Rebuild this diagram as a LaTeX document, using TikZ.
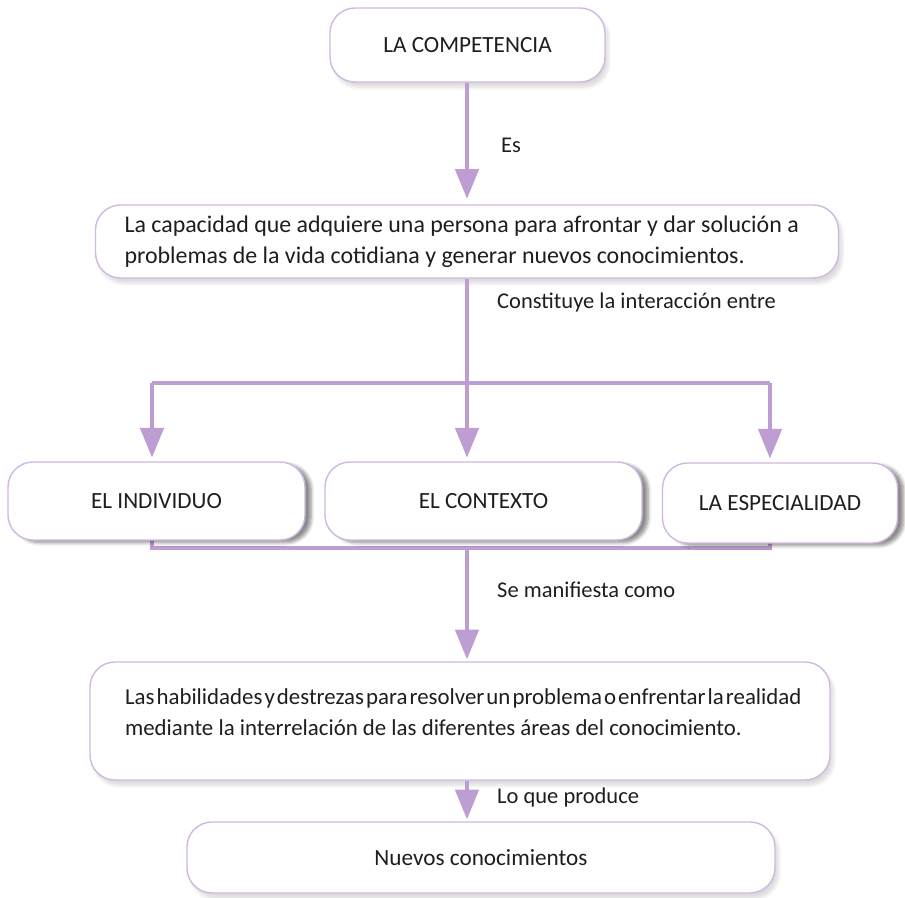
\documentclass[tikz,border=0pt]{standalone}
\usepackage{fontspec}
\setmainfont{Carlito}
\usetikzlibrary{arrows.meta,shadows.blur}

\definecolor{lila}{RGB}{190,158,210}
\definecolor{lilaedge}{RGB}{208,184,224}
\definecolor{ink}{RGB}{30,30,30}

\begin{document}
\begin{tikzpicture}[>={Triangle[width=0.46cm,length=0.6cm]},
  box/.style={draw=lilaedge, line width=0.8pt, fill=white, rounded corners=0.5cm,
    inner sep=0pt, text=ink, font=\fontsize{13.2}{17.5}\selectfont},
  soft/.style={blur shadow={shadow xshift=2pt, shadow yshift=-3pt,
    shadow opacity=14, shadow blur steps=8}},
  hard/.style={blur shadow={shadow xshift=3.5pt, shadow yshift=-1.5pt,
    shadow opacity=45, shadow blur steps=6}},
  flow/.style={lila, line width=2.8pt},
  lbl/.style={anchor=west, text=ink, font=\fontsize{12.8}{16}\selectfont}]

\useasboundingbox (0,0) rectangle (18.1,-17.96);
\coordinate (spine) at (9.34,0);

% Concept boxes
\node[box,soft,minimum width=5.5cm,minimum height=1.48cm] (comp) at (9.35,-0.9) {LA COMPETENCIA};
\node[box,soft,minimum width=14.86cm,minimum height=1.46cm,align=flush left,text width=13.7cm,
  font=\fontsize{13.6}{17.5}\selectfont] (cap) at (9.34,-4.83)
  {La capacidad que adquiere una persona para afrontar y dar solución a\\
   problemas de la vida cotidiana y generar nuevos conocimientos.};

% Bracket under the three boxes (drawn first, boxes cover it)
\draw[flow] (3.04,-10.6) |- (15.4,-10.96) -- (15.4,-10.6);

\node[box,hard,minimum width=5.94cm,minimum height=1.56cm] (indiv) at (3.13,-10.02) {EL INDIVIDUO};
\node[box,hard,minimum width=6.34cm,minimum height=1.56cm] (contexto) at (9.67,-10.02) {EL CONTEXTO};
\node[box,hard,minimum width=4.7cm,minimum height=1.6cm] (espec) at (15.6,-10.06) {LA ESPECIALIDAD};

\node[box,soft,minimum width=14.8cm,minimum height=2.36cm] (habil) at (9.2,-14.42) {};
\node[align=flush left,text width=13.6cm,inner sep=0pt,text=ink,font=\fontsize{13}{17.5}\selectfont] (habiltxt)
  at (9.3,-14.25)
  {\mbox{\spaceskip=1.2pt Las habilidades y destrezas para resolver un problema o enfrentar la realidad}\\
   mediante la interrelación de las diferentes áreas del conocimiento.};

\node[box,soft,minimum width=11.76cm,minimum height=1.42cm] (nuevos) at (9.62,-17.15) {Nuevos conocimientos};

% Connectors
\coordinate (fork) at (spine |- 0,-7.66);
\draw[flow,->,shorten >=3pt] (comp.south -| spine) -- (spine |- cap.north);
\draw[flow] (cap.south -| spine) -- (fork);
\draw[flow] (3.04,-7.66) -- (15.4,-7.66);
\foreach \xx/\dest in {3.04/indiv,9.34/contexto,15.4/espec}
  \draw[flow,->,shorten >=2pt] (\xx,-7.66) -- (\xx,0 |- \dest.north);
\draw[flow,->,shorten >=1pt] (spine |- 0,-10.96) -- (spine |- habil.north);
\draw[flow,->,shorten >=1pt] (habil.south -| spine) -- (spine |- nuevos.north);

% Connector labels
\node[lbl] (es) at (9.9,-2.9) {Es};
\node[lbl] (constituye) at (9.82,-6.06) {Constituye la interacción entre};
\node[lbl] (manifiesta) at (9.82,-11.8) {Se manifiesta como};
\node[lbl] (produce) at (9.82,-15.94) {Lo que produce};

\end{tikzpicture}
\end{document}
